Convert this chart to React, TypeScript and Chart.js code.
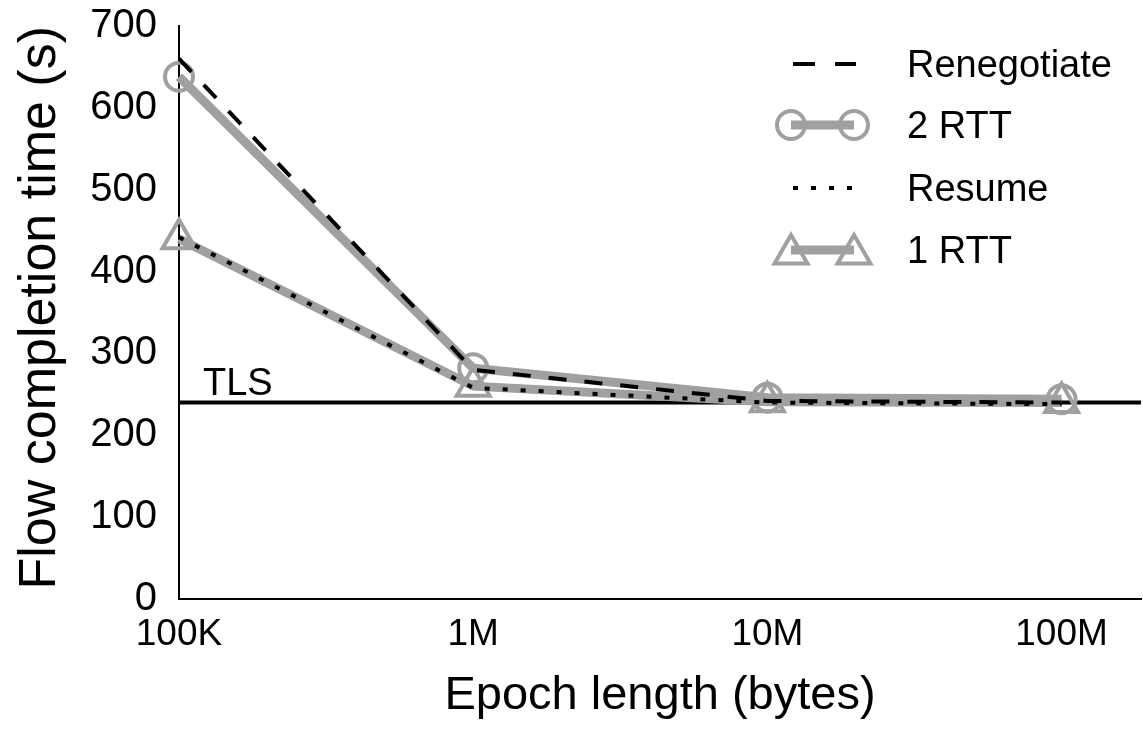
import React, { useEffect, useRef } from 'react';
import { Chart, registerables } from 'chart.js';

Chart.register(...registerables);

// ---- Data ----
const X_LABELS = ['100K', '1M', '10M', '100M'];
const X_POS = [0, 1, 2, 3];
const Y_TICKS = [0, 100, 200, 300, 400, 500, 600, 700];
const RENEGOTIATE = [660, 280, 242, 240];
const TWO_RTT = [638, 282, 246, 244];
const RESUME = [442, 258, 240, 238];
const ONE_RTT = [440, 260, 241, 240];
const TLS_BASELINE = [240];
const SERIES_NAMES = ['Renegotiate', '2 RTT', 'Resume', '1 RTT'];
const TLS_LABEL = 'TLS';

const FONT = '"Liberation Sans", Arial, Helvetica, sans-serif';
const GRAY = '#a0a0a0';

const toPts = (vals: number[]) => vals.map((v, i) => ({ x: X_POS[i], y: v }));

function trianglePath(ctx: CanvasRenderingContext2D, x: number, y: number, r: number) {
  let rad = 0;
  const step = (Math.PI * 2) / 3;
  ctx.beginPath();
  ctx.moveTo(x + Math.sin(rad) * r, y - Math.cos(rad) * r);
  rad += step;
  ctx.lineTo(x + Math.sin(rad) * r, y - Math.cos(rad) * r);
  rad += step;
  ctx.lineTo(x + Math.sin(rad) * r, y - Math.cos(rad) * r);
  ctx.closePath();
}

const tlsPlugin = {
  id: 'tlsLine',
  beforeDatasetsDraw(chart: any) {
    const { ctx, chartArea, scales } = chart;
    const y = scales.y.getPixelForValue(TLS_BASELINE[0]);
    ctx.save();
    ctx.strokeStyle = '#000';
    ctx.lineWidth = 4;
    ctx.beginPath();
    ctx.moveTo(chartArea.left, y);
    ctx.lineTo(chartArea.right, y);
    ctx.stroke();
    ctx.fillStyle = '#000';
    ctx.font = `38px ${FONT}`;
    ctx.textAlign = 'left';
    ctx.textBaseline = 'alphabetic';
    ctx.fillText(TLS_LABEL, chartArea.left + 24, y - 8);
    ctx.restore();
  },
};

const legendPlugin = {
  id: 'customLegend',
  afterDraw(chart: any) {
    const { ctx } = chart;
    const datasets = chart.data.datasets;
    const rowsY = [64, 125, 188, 250];
    const x0 = 791;
    const x1 = 854;
    const textX = 907;
    ctx.save();
    datasets.forEach((ds: any, i: number) => {
      const y = rowsY[i];
      ctx.save();
      ctx.strokeStyle = ds.borderColor;
      ctx.lineWidth = ds.borderWidth;
      ctx.setLineDash(ds.legendDash || []);
      ctx.beginPath();
      if (ds.legendDash) {
        ctx.moveTo(x0 + 2, y);
        ctx.lineTo(x1 + 2, y);
      } else {
        ctx.moveTo(x0, y);
        ctx.lineTo(x1, y);
      }
      ctx.stroke();
      ctx.setLineDash([]);
      if (ds.pointRadius > 0) {
        ctx.strokeStyle = ds.pointBorderColor;
        ctx.lineWidth = ds.pointBorderWidth;
        [x0, x1].forEach((px) => {
          if (ds.pointStyle === 'triangle') {
            trianglePath(ctx, px, y + 4, ds.pointRadius);
          } else {
            ctx.beginPath();
            ctx.arc(px, y, ds.pointRadius, 0, Math.PI * 2);
          }
          ctx.stroke();
        });
      }
      ctx.restore();
      ctx.fillStyle = '#000';
      ctx.font = `38px ${FONT}`;
      ctx.textAlign = 'left';
      ctx.textBaseline = 'middle';
      ctx.fillText(ds.label, textX, y + 3);
    });
    ctx.restore();
  },
};

export default function App() {
  const canvasRef = useRef<HTMLCanvasElement | null>(null);

  useEffect(() => {
    const canvas = canvasRef.current;
    if (!canvas) return;
    const chart = new Chart(canvas, {
      type: 'line',
      data: {
        datasets: [
          {
            label: SERIES_NAMES[0],
            data: toPts(RENEGOTIATE),
            borderColor: '#000',
            borderWidth: 4,
            borderDash: [18, 18],
            legendDash: [22, 20],
            pointRadius: 0,
            fill: false,
            order: 0,
          } as any,
          {
            label: SERIES_NAMES[1],
            data: toPts(TWO_RTT),
            borderColor: GRAY,
            borderWidth: 9,
            pointStyle: 'circle',
            pointRadius: 14,
            pointBorderWidth: 4,
            pointBorderColor: GRAY,
            pointBackgroundColor: 'rgba(0,0,0,0)',
            fill: false,
            order: 2,
          } as any,
          {
            label: SERIES_NAMES[2],
            data: toPts(RESUME),
            borderColor: '#000',
            borderWidth: 4,
            borderDash: [5, 13],
            legendDash: [5, 13],
            pointRadius: 0,
            fill: false,
            order: 1,
          } as any,
          {
            label: SERIES_NAMES[3],
            data: toPts(ONE_RTT),
            borderColor: GRAY,
            borderWidth: 9,
            pointStyle: 'triangle',
            pointRadius: 19,
            pointBorderWidth: 4,
            pointBorderColor: GRAY,
            pointBackgroundColor: 'rgba(0,0,0,0)',
            fill: false,
            order: 3,
          } as any,
        ],
      },
      options: {
        responsive: false,
        animation: false,
        clip: false as any,
        layout: { autoPadding: false, padding: { top: 26, right: 2, left: 0, bottom: 0 } },
        plugins: {
          legend: { display: false },
          tooltip: { enabled: false },
        },
        scales: {
          x: {
            type: 'linear',
            min: 0,
            max: 3.27,
            grid: { display: false, drawTicks: false },
            border: { display: true, color: '#000', width: 2 },
            afterBuildTicks: (scale: any) => {
              scale.ticks = X_POS.map((v) => ({ value: v }));
            },
            afterFit: (scale: any) => {
              scale.height = 131;
              scale.paddingLeft = 0;
              scale.paddingRight = 0;
              scale.paddingTop = 0;
              scale.paddingBottom = 0;
            },
            ticks: {
              padding: 14,
              color: '#000',
              font: { family: FONT, size: 37, lineHeight: 1.2 },
              maxRotation: 0,
              autoSkip: false,
              callback: (v: any) => {
                const idx = X_POS.indexOf(Number(v));
                return idx >= 0 ? X_LABELS[idx] : '';
              },
            },
            title: {
              display: true,
              text: 'Epoch length (bytes)',
              color: '#000',
              font: { family: FONT, size: 47, lineHeight: 1.2 },
              padding: { top: 0, bottom: 6 },
            },
          },
          y: {
            type: 'linear',
            min: Y_TICKS[0],
            max: Y_TICKS[Y_TICKS.length - 1],
            grid: { display: false, drawTicks: false },
            border: { display: true, color: '#000', width: 2 },
            afterBuildTicks: (scale: any) => {
              scale.ticks = Y_TICKS.map((v) => ({ value: v }));
            },
            afterFit: (scale: any) => {
              scale.width = 179;
              scale.paddingLeft = 0;
              scale.paddingRight = 0;
              scale.paddingTop = 0;
              scale.paddingBottom = 0;
            },
            ticks: {
              padding: 22,
              color: '#000',
              font: { family: FONT, size: 40, lineHeight: 1.2 },
            },
            title: {
              display: true,
              text: 'Flow completion time (s)',
              align: 'end',
              color: '#000',
              font: { family: FONT, size: 52, lineHeight: 1.2 },
              padding: { top: 9, bottom: 0 },
            },
          },
        },
      },
      plugins: [tlsPlugin, legendPlugin],
    } as any);
    return () => chart.destroy();
  }, []);

  return (
    <div style={{ position: 'fixed', left: 0, top: 0, width: 1143, height: 730, background: '#fff' }}>
      <canvas ref={canvasRef} width={1143} height={730} style={{ display: 'block' }} />
    </div>
  );
}
